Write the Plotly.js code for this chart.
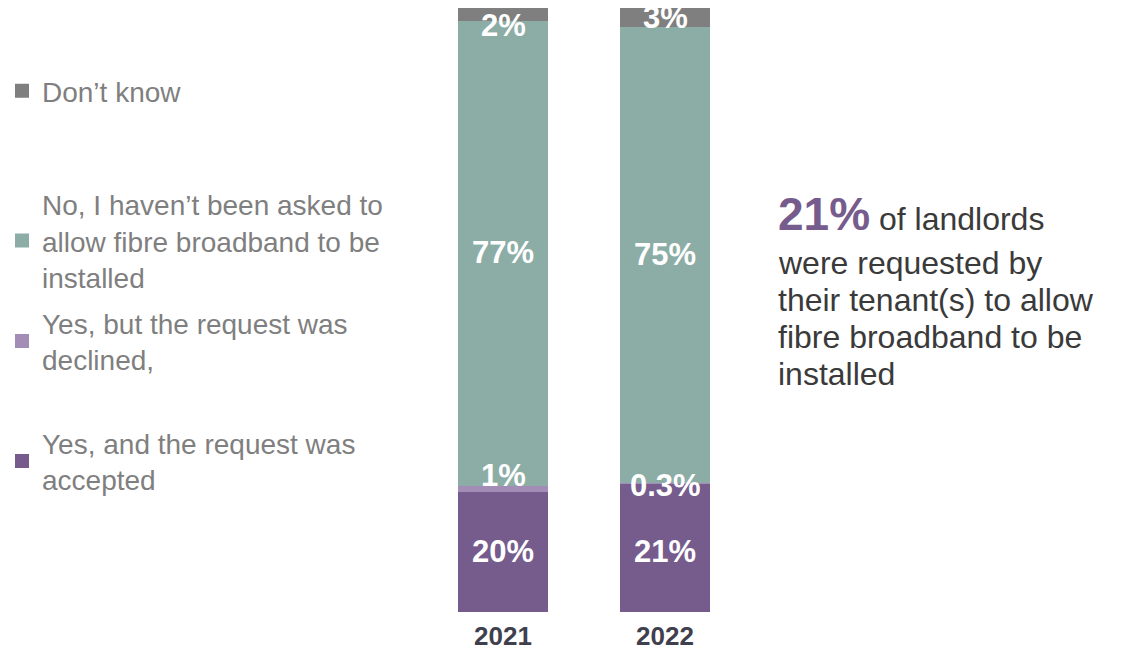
<!DOCTYPE html>
<html>
<head>
<meta charset="utf-8">
<script src="https://cdn.plot.ly/plotly-3.0.1.min.js"></script>
<style>
  html, body { margin: 0; padding: 0; background: #ffffff; }
  #chart { width: 1122px; height: 652px; }
</style>
</head>
<body>
<div id="chart"></div>
<script>
// ---- data ----
const years = ['2021', '2022'];
const seriesNames = [
  'Yes, and the request was<br>accepted',
  'Yes, but the request was<br>declined,',
  'No, I haven\u2019t been asked to<br>allow fibre broadband to be<br>installed',
  'Don\u2019t know'
];
const accepted = [20.1, 21.3];
const declined = [0.9, 0.3];
const notAsked = [77.0, 75.4];
const dontKnow = [2.0, 3.0];
const acceptedLabels = ['20%', '21%'];
const declinedLabels = ['1%', '0.3%'];
const notAskedLabels = ['77%', '75%'];
const dontKnowLabels = ['2%', '3%'];
const calloutValue = '21%';
const calloutLines = ['of landlords', 'were requested by', 'their tenant(s) to allow', 'fibre broadband to be', 'installed'];

// ---- styling ----
const FONT = 'Arial, "Liberation Sans", sans-serif';
const colors = ['#765B8D', '#A38CB6', '#8CADA6', '#7F7F7F'];
const W = 1122, H = 652;
const mT = 8, mB = 40;
const plotH = H - mT - mB;
const py = (p) => (H - mB - p) / plotH;   // pixel y -> paper y
const px = (p) => p / W;                  // pixel x -> paper x

const values = [accepted, declined, notAsked, dontKnow];
const labels = [acceptedLabels, declinedLabels, notAskedLabels, dontKnowLabels];
const legendIds = ['legend4', 'legend3', 'legend2', 'legend'];
// vertical nudges (px) of the segment labels, per series / per year
const labelShift = [[0, -4], [12, -3], [0, -1], [-11, 0]];

const traces = values.map((v, i) => ({
  type: 'bar',
  name: seriesNames[i],
  x: years,
  y: v,
  marker: { color: colors[i], line: { color: colors[i], width: 2 } },
  legend: legendIds[i],
  hoverinfo: 'skip'
}));

// segment labels placed at the middle of each stacked segment (data coordinates)
const annotations = [];
years.forEach((yr, j) => {
  let base = 0;
  values.forEach((v, i) => {
    annotations.push({
      xref: 'x', yref: 'y',
      x: j, y: base + v[j] / 2,
      yshift: labelShift[i][j],
      xanchor: 'center', yanchor: 'middle',
      showarrow: false,
      text: '<b>' + labels[i][j] + '</b>',
      font: { family: FONT, size: 31, color: '#ffffff' }
    });
    base += v[j];
  });
});

// call-out text on the right
const calloutCenters = [214, 263, 300, 337, 374];
calloutLines.forEach((line, k) => {
  annotations.push({
    xref: 'paper', yref: 'paper',
    x: px(776), xanchor: 'left',
    y: py(calloutCenters[k]), yanchor: 'middle',
    align: 'left',
    showarrow: false,
    text: k === 0
      ? '<span style="font-size:46px;color:#765B8D"><b>' + calloutValue + '</b></span> ' + line
      : line,
    font: { family: FONT, size: 32, color: '#3A3A3A' }
  });
});

function legendAt(yPix) {
  return {
    x: px(2), xanchor: 'left',
    y: py(yPix), yanchor: 'middle',
    bgcolor: 'rgba(0,0,0,0)',
    borderwidth: 0,
    font: { family: FONT, size: 28, color: '#7F7F7F' },
    itemwidth: 30,
    itemclick: false, itemdoubleclick: false
  };
}

const layout = {
  width: W, height: H,
  margin: { l: 0, r: 0, t: mT, b: mB, pad: 0 },
  paper_bgcolor: '#ffffff',
  plot_bgcolor: '#ffffff',
  barmode: 'stack',
  bargap: 0.455,
  showlegend: true,
  legend: legendAt(91),
  legend2: legendAt(241),
  legend3: legendAt(341),
  legend4: legendAt(461),
  xaxis: {
    type: 'category',
    range: [-3.105, 3.821],
    showgrid: false, zeroline: false, showline: false,
    ticks: '',
    ticklabelstandoff: 6,
    tickfont: { family: FONT, size: 26, color: '#3F3F4E', weight: 'bold' },
    fixedrange: true
  },
  yaxis: {
    range: [0, 100],
    visible: false,
    fixedrange: true
  },
  annotations: annotations
};

Plotly.newPlot('chart', traces, layout, { displayModeBar: false, staticPlot: true });
</script>
</body>
</html>
